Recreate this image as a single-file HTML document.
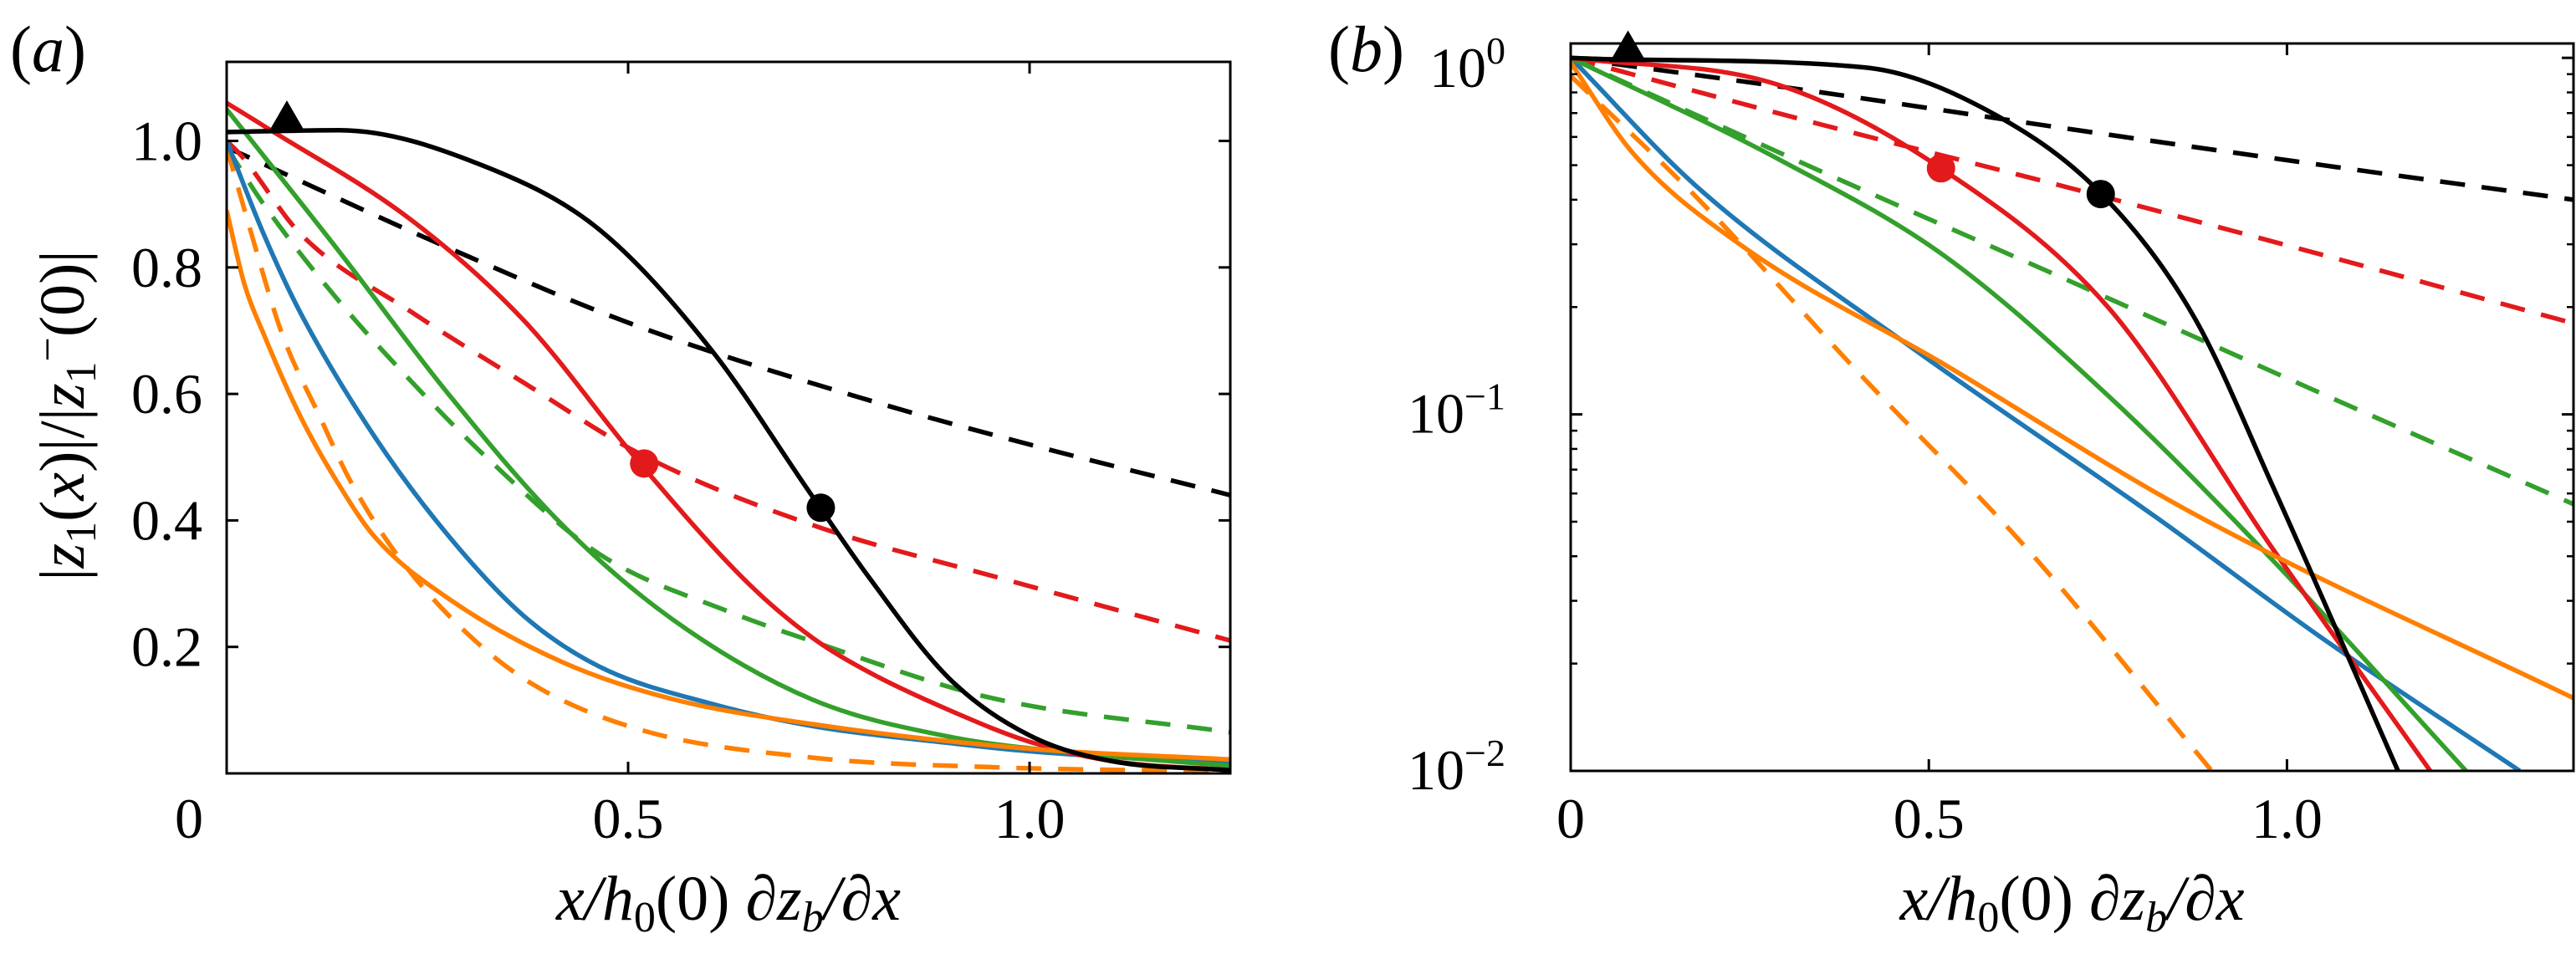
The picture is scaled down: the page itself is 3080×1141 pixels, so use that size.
<!DOCTYPE html>
<html><head><meta charset="utf-8"><style>
html,body{margin:0;padding:0;background:#fff}
svg{display:block}
svg text{font-family:"Liberation Serif","DejaVu Serif",serif;fill:#000}
</style></head><body>
<svg id="fig" width="3080" height="1141" viewBox="0 0 3080 1141" font-family="Liberation Serif, DejaVu Serif, serif"></svg>
<script>
// ---- data (panel a, linear) ----
const aBlackSolidX=[0,0.14,0.325,0.464,0.604,0.729,0.8,0.9,1.0,1.1,1.25];
const aBlackSolidY=[1.014,1.017,0.958,0.86,0.669,0.439,0.31,0.15,0.06,0.02,0.005];
const aBlackDashX=[0,0.278,0.51,0.8,1.0,1.25];
const aBlackDashY=[0.99,0.83,0.708,0.59,0.52,0.44];
const aRedSolidX=[0,0.046,0.232,0.371,0.515,0.65,0.729,0.8,0.9,1.0,1.1,1.25];
const aRedSolidY=[1.06,1.024,0.873,0.715,0.49,0.30,0.215,0.16,0.1,0.05,0.02,0.005];
const aRedDashX=[0,0.018,0.092,0.232,0.371,0.515,0.729,0.96,1.25];
const aRedDashY=[1.0,0.977,0.853,0.728,0.617,0.505,0.393,0.31,0.21];
const aGreenSolidX=[0,0.139,0.278,0.418,0.557,0.729,0.9,1.05,1.25];
const aGreenSolidY=[1.05,0.827,0.597,0.393,0.242,0.117,0.058,0.033,0.012];
const aGreenDashX=[0,0.046,0.139,0.232,0.325,0.464,0.627,0.729,0.95,1.25];
const aGreenDashY=[0.99,0.90,0.748,0.617,0.498,0.347,0.255,0.209,0.12,0.065];
const aBlueX=[0,0.046,0.092,0.185,0.278,0.371,0.464,0.604,0.729,0.9,1.0,1.25];
const aBlueY=[1.0,0.853,0.728,0.531,0.373,0.248,0.169,0.11,0.075,0.048,0.035,0.015];
const aOrangeSolidX=[0,0.022,0.046,0.092,0.139,0.185,0.278,0.418,0.557,0.729,0.99,1.25];
const aOrangeSolidY=[0.89,0.774,0.695,0.564,0.458,0.373,0.275,0.176,0.117,0.078,0.04,0.022];
const aOrangeDashX=[0,0.027,0.069,0.116,0.153,0.208,0.278,0.371,0.51,0.729,0.95,1.25];
const aOrangeDashY=[0.99,0.87,0.695,0.564,0.465,0.353,0.248,0.149,0.071,0.025,0.01,0.003];
// ---- data (panel b, log) ----
const bBlackSolidX=[0,0.06,0.41,0.58,0.74,0.87,0.98,1.155];
const bBlackSolidY=[1.0,0.99,0.94,0.715,0.417,0.188,0.063,0.01];
const bBlackDashX=[0,0.35,0.7,1.05,1.4];
const bBlackDashY=[1.0,0.8,0.63,0.5,0.40];
const bRedSolidX=[0,0.29,0.517,0.75,0.98,1.2];
const bRedSolidY=[1.0,0.84,0.49,0.2,0.042,0.01];
const bRedDashX=[0,0.35,0.7,1.05,1.4];
const bRedDashY=[1.0,0.65,0.43,0.28,0.18];
const bGreenSolidX=[0,0.29,0.52,0.75,0.98,1.25];
const bGreenSolidY=[1.0,0.52,0.28,0.113,0.039,0.01];
const bGreenDashX=[0,0.35,0.7,1.05,1.4];
const bGreenDashY=[1.0,0.48,0.235,0.114,0.056];
const bBlueX=[0,0.179,0.476,0.82,1.05,1.325];
const bBlueY=[1.0,0.43,0.154,0.051,0.0235,0.01];
const bOrangeSolidX=[0,0.087,0.236,0.522,0.867,1.4];
const bOrangeSolidY=[0.97,0.54,0.30,0.138,0.053,0.016];
const bOrangeDashX=[0,0.179,0.408,0.637,0.895];
const bOrangeDashY=[0.89,0.40,0.127,0.042,0.01];
const aTicksX=[0,0.5,1.0], aTickLabelsX=["0","0.5","1.0"];
const aTicksY=[0.2,0.4,0.6,0.8,1.0], aTickLabelsY=["0.2","0.4","0.6","0.8","1.0"];
const bTicksX=[0,0.5,1.0], bTickLabelsX=["0","0.5","1.0"];

const NS="http://www.w3.org/2000/svg";
const FF="Liberation Serif, DejaVu Serif, serif";
const svg=document.getElementById('fig');
function el(t,a,p){const e=document.createElementNS(NS,t);for(const k in a)e.setAttribute(k,a[k]);if(t==='text')e.setAttribute('font-family',FF);(p||svg).appendChild(e);return e;}
// monotone cubic (Fritsch-Carlson) in screen space
function spline(pts){
  const n=pts.length;const d=[],m=[];
  for(let i=0;i<n-1;i++)d.push((pts[i+1][1]-pts[i][1])/(pts[i+1][0]-pts[i][0]));
  m[0]=d[0];m[n-1]=d[n-2];
  for(let i=1;i<n-1;i++){m[i]=(d[i-1]*d[i]<=0)?0:(d[i-1]+d[i])/2;}
  for(let i=0;i<n-1;i++){if(d[i]===0){m[i]=m[i+1]=0;continue;}const a=m[i]/d[i],b=m[i+1]/d[i],s=a*a+b*b;if(s>9){const t=3/Math.sqrt(s);m[i]=t*a*d[i];m[i+1]=t*b*d[i];}}
  let p=`M${pts[0][0]},${pts[0][1]}`;
  for(let i=0;i<n-1;i++){const h=(pts[i+1][0]-pts[i][0])/3;
    p+=` C${pts[i][0]+h},${pts[i][1]+m[i]*h} ${pts[i+1][0]-h},${pts[i+1][1]-m[i+1]*h} ${pts[i+1][0]},${pts[i+1][1]}`;}
  return p;}

const C={black:"#000",red:"#e31a1c",green:"#33a02c",blue:"#1f78b4",orange:"#ff7f00"};

function panel(o){
  const g=el('g',{});
  
  
  const clipId=o.name+'-clip';
  const cp=el('clipPath',{id:clipId},g);el('rect',{x:o.x0,y:o.y0,width:o.x1-o.x0,height:o.y1-o.y0},cp);
  const sx=v=>o.x0+(v-o.xmin)/(o.xmax-o.xmin)*(o.x1-o.x0);
  const sy=o.sy;
  const lg=el('g',{'clip-path':`url(#${clipId})`},g);
  o.series.forEach(s=>{
    const pts=s.x.map((v,i)=>[sx(v),sy(s.y[i])]);
    const p=el('path',{d:spline(pts),fill:'none',stroke:C[s.c],'stroke-width':5.5,'stroke-dasharray':s.dash?'30 20':'none'},lg);
    
    
  });
  o.markers.forEach(m=>{
    const X=sx(m.x),Y=sy(m.y);
    let e;
    if(m.t==='tri')e=el('polygon',{points:`${X},${Y-22} ${X-22},${Y+16} ${X+22},${Y+16}`,fill:'#000'},g);
    else e=el('ellipse',{cx:X,cy:Y,rx:17,ry:17,fill:C[m.c]},g);
    
    
  });
  const fr=el('rect',{x:o.x0,y:o.y0,width:o.x1-o.x0,height:o.y1-o.y0,fill:'none',stroke:'#000','stroke-width':3},g);
  
  
  o.ticksX.forEach((v,i)=>{const X=sx(v);
    if(v>o.xmin){el('line',{x1:X,x2:X,y1:o.y1,y2:o.y1-14,stroke:'#000','stroke-width':3},g);el('line',{x1:X,x2:X,y1:o.y0,y2:o.y0+14,stroke:'#000','stroke-width':3},g);}
    const t=el('text',{x:X+(v===0?o.zeroDx:0),y:1002,'font-size':68,'text-anchor':'middle'},g);t.textContent=o.labelsX[i];
    
    
  });
  o.yTicks(g);
  const xl=el('text',{x:(o.x0+o.x1)/2,y:1100,'font-size':76,'text-anchor':'middle','font-style':'italic'},g);
  xl.innerHTML='x/h<tspan font-style="normal" font-size="52" dy="14">0</tspan><tspan font-style="normal" dy="-14">(0) ∂</tspan>z<tspan font-size="52" dy="14">b</tspan><tspan dy="-14">/</tspan><tspan font-style="normal">∂</tspan>x';
  
  
  const pl=el('text',{x:o.plx,y:85,'font-size':78},g);
  pl.innerHTML='(<tspan font-style="italic">'+o.letter+'</tspan>)';
  
  
}

// Panel a
panel({name:'panel-a',letter:'a',plx:12,x0:271,x1:1471,y0:74,y1:925,xmin:0,xmax:1.25,zeroDx:-45,
 sy:v=>925-v/1.125*(925-74),ticksX:aTicksX,labelsX:aTickLabelsX,
 series:[
  {x:aBlackDashX,y:aBlackDashY,c:'black',dash:1,n:'black-dashed-line'},
  {x:aRedDashX,y:aRedDashY,c:'red',dash:1,n:'red-dashed-line'},
  {x:aGreenDashX,y:aGreenDashY,c:'green',dash:1,n:'green-dashed-line'},
  {x:aOrangeDashX,y:aOrangeDashY,c:'orange',dash:1,n:'orange-dashed-line'},
  {x:aBlueX,y:aBlueY,c:'blue',n:'blue-line'},
  {x:aGreenSolidX,y:aGreenSolidY,c:'green',n:'green-solid-line'},
  {x:aRedSolidX,y:aRedSolidY,c:'red',n:'red-solid-line'},
  {x:aOrangeSolidX,y:aOrangeSolidY,c:'orange',n:'orange-solid-line'},
  {x:aBlackSolidX,y:aBlackSolidY,c:'black',n:'black-solid-line'}],
 markers:[{t:'tri',x:0.075,y:1.035,n:'black-triangle-marker'},{c:'red',x:0.52,y:0.49,n:'red-circle-marker'},{c:'black',x:0.74,y:0.42,n:'black-circle-marker'}],
 yTicks:g=>{const sy=v=>925-v/1.125*851;aTicksY.forEach((v,i)=>{const Y=sy(v);
   el('line',{x1:271,x2:285,y1:Y,y2:Y,stroke:'#000','stroke-width':3},g);el('line',{x1:1471,x2:1457,y1:Y,y2:Y,stroke:'#000','stroke-width':3},g);
   const t=el('text',{x:242,y:Y+23,'font-size':68,'text-anchor':'end'},g);t.textContent=aTickLabelsY[i];
   
   });
  const yl=el('text',{x:0,y:0,'font-size':76,'text-anchor':'middle',transform:'translate(100,497) rotate(-90)'},g);
  yl.innerHTML='|<tspan font-style="italic">z</tspan><tspan font-size="52" dy="14">1</tspan><tspan dy="-14">(</tspan><tspan font-style="italic">x</tspan>)|/|<tspan font-style="italic">z</tspan><tspan font-size="52" dy="14">1</tspan><tspan font-size="52" dy="-40">−</tspan><tspan dy="26">(0)|</tspan>';
  
  }
});

// Panel b
const bsy=v=>495.6-(Math.log10(v)+1)*426.4;
panel({name:'panel-b',letter:'b',plx:1588,x0:1878,x1:3077,y0:52,y1:922,xmin:0,xmax:1.4,zeroDx:0,
 sy:bsy,ticksX:bTicksX,labelsX:bTickLabelsX,
 series:[
  {x:bBlackDashX,y:bBlackDashY,c:'black',dash:1,n:'black-dashed-line'},
  {x:bRedDashX,y:bRedDashY,c:'red',dash:1,n:'red-dashed-line'},
  {x:bGreenDashX,y:bGreenDashY,c:'green',dash:1,n:'green-dashed-line'},
  {x:bOrangeDashX,y:bOrangeDashY,c:'orange',dash:1,n:'orange-dashed-line'},
  {x:bBlueX,y:bBlueY,c:'blue',n:'blue-line'},
  {x:bGreenSolidX,y:bGreenSolidY,c:'green',n:'green-solid-line'},
  {x:bRedSolidX,y:bRedSolidY,c:'red',n:'red-solid-line'},
  {x:bOrangeSolidX,y:bOrangeSolidY,c:'orange',n:'orange-solid-line'},
  {x:bBlackSolidX,y:bBlackSolidY,c:'black',n:'black-solid-line'}],
 markers:[{t:'tri',x:0.08,y:1.06,n:'black-triangle-marker'},{c:'red',x:0.517,y:0.49,n:'red-circle-marker'},{c:'black',x:0.74,y:0.415,n:'black-circle-marker'}],
 yTicks:g=>{
  [0.01,0.1,1].forEach((v,i)=>{const Y=bsy(v);
   el('line',{x1:1878,x2:1892,y1:Y,y2:Y,stroke:'#000','stroke-width':3},g);el('line',{x1:3077,x2:3063,y1:Y,y2:Y,stroke:'#000','stroke-width':3},g);
   const t=el('text',{x:1800,y:Y+(i===2?35:22),'font-size':68,'text-anchor':'end'},g);
   t.innerHTML='10<tspan font-size="46" dy="-28">'+(['−2','−1','0'][i])+'</tspan>';
   
   });
  [0.01,0.1].forEach(d=>{for(let k=2;k<=9;k++){const Y=bsy(d*k);if(Y<52)continue;
   el('line',{x1:1878,x2:1886,y1:Y,y2:Y,stroke:'#000','stroke-width':2.5},g);el('line',{x1:3077,x2:3069,y1:Y,y2:Y,stroke:'#000','stroke-width':2.5},g);}});
 }
});
</script>
</body></html>
